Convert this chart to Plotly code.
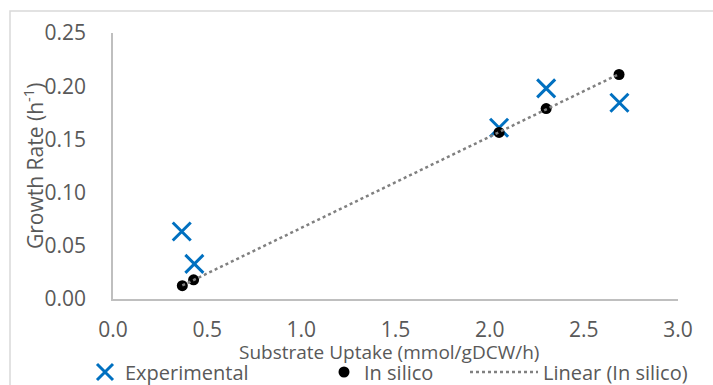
import numpy as np
import plotly.graph_objects as go

exp_x = [0.365, 0.432, 2.05, 2.30, 2.689]
exp_y = [0.0635, 0.0330, 0.161, 0.198, 0.1845]
sil_x = [0.368, 0.428, 2.05, 2.30, 2.687]
sil_y = [0.0125, 0.0180, 0.1565, 0.179, 0.211]

x_ticks = [0.0, 0.5, 1.0, 1.5, 2.0, 2.5, 3.0]
y_ticks = [0.00, 0.05, 0.10, 0.15, 0.20, 0.25]

x_title = "Substrate Uptake (mmol/gDCW/h)"
y_title = "Growth Rate (h<sup>-1</sup>)"

slope, intercept = np.polyfit(sil_x, sil_y, 1)
tx = [min(sil_x), max(sil_x)]
ty = [slope * v + intercept for v in tx]

FONT = "Open Sans"
TXT = "#595959"
W, H = 713, 385
L, R, T, B = 113, 35, 33, 86

fig = go.Figure()
fig.add_trace(go.Scatter(
    x=exp_x, y=exp_y, mode="markers", name="Experimental", legend="legend",
    marker=dict(symbol="x-thin", size=18, line=dict(width=3, color="#0070C0"), color="#0070C0"),
))
fig.add_trace(go.Scatter(
    x=sil_x, y=sil_y, mode="markers", name="In silico", legend="legend2",
    marker=dict(symbol="circle", size=11, color="#000000"),
))
fig.add_trace(go.Scatter(
    x=tx, y=ty, mode="lines", name="Linear (In silico)", legend="legend3",
    line=dict(color="#808080", width=2.5, dash="dot"),
))

def leg(px_left, iw=30):
    return dict(orientation="h", xref="container", yref="container",
                x=px_left / W, xanchor="left", y=(H - 372) / H, yanchor="middle",
                font=dict(size=20, color=TXT, family=FONT), itemwidth=iw,
                bgcolor="rgba(0,0,0,0)", borderwidth=0)

pw, ph = W - L - R, H - T - B

fig.update_layout(
    width=W, height=H,
    margin=dict(l=L, r=R, t=T, b=B, autoexpand=False),
    paper_bgcolor="white", plot_bgcolor="white",
    font=dict(family=FONT, color=TXT, size=19),
    showlegend=True,
    legend=leg(85),
    legend2=leg(324),
    legend3=leg(465, 68),
    xaxis=dict(range=[0, 3], tickvals=x_ticks, tickformat=".1f", showgrid=False,
               zeroline=False, showline=True, linecolor="#BFBFBF", linewidth=1.5,
               ticks="", tickfont=dict(size=21, color=TXT), automargin=False,
               ticklabelstandoff=11),
    yaxis=dict(range=[0, 0.25], tickvals=y_ticks, tickformat=".2f", showgrid=False,
               zeroline=False, showline=True, linecolor="#BFBFBF", linewidth=1.5,
               ticks="", tickfont=dict(size=21, color=TXT), automargin=False,
               ticklabelstandoff=21),
    annotations=[
        dict(text=x_title, xref="paper", yref="paper", x=(389 - L) / pw, y=(H - B - 352) / ph,
             xanchor="center", yanchor="middle", showarrow=False,
             font=dict(size=19, color=TXT, family=FONT)),
        dict(text=y_title, xref="paper", yref="paper", x=(33 - L) / pw, y=0.5,
             xanchor="center", yanchor="middle", showarrow=False, textangle=-90,
             font=dict(size=21, color=TXT, family=FONT)),
    ],
    shapes=[dict(type="rect", xref="paper", yref="paper", x0=-0.1823, x1=1.074, y0=-0.342, y1=1.0827,
                 line=dict(color="#D9D9D9", width=1.5), fillcolor="rgba(0,0,0,0)", layer="below")],
)

fig.write_html("out.html", config={"displayModeBar": False},
               post_script="document.body.style.margin='0';")
